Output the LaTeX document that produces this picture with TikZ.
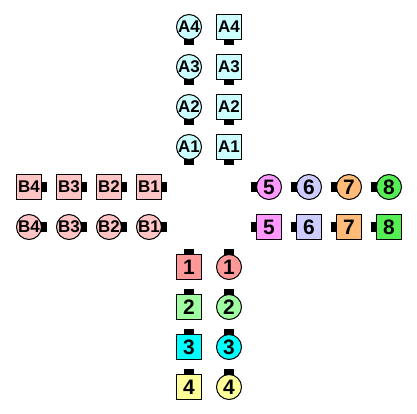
\documentclass[tikz,border=0pt]{standalone}
\usepackage{fontspec}
\setmainfont{Liberation Sans}
\definecolor{acol}{HTML}{CCFFFF}
\definecolor{bcol}{HTML}{FFC4C4}
\definecolor{cA}{HTML}{FF9999}
\definecolor{cB}{HTML}{A0FFA0}
\definecolor{cC}{HTML}{00FFFF}
\definecolor{cD}{HTML}{FFFF99}
\definecolor{cE}{HTML}{FF99FF}
\definecolor{cF}{HTML}{CCCCFF}
\definecolor{cG}{HTML}{FFBB77}
\definecolor{cH}{HTML}{55EE55}
\begin{document}
\begin{tikzpicture}[x=1bp,y=-1bp,
  sqbox/.style={draw=black, line width=1bp, minimum size=25bp, inner sep=0pt},
  circbox/.style={circle, draw=black, line width=1bp, minimum size=25bp, inner sep=0pt},
  letterfont/.style={font=\bfseries\fontsize{17}{17}\selectfont},
  digitfont/.style={font=\bfseries\fontsize{21}{21}\selectfont},
  tabv/.style={fill=black, minimum width=10bp, minimum height=6bp, inner sep=0pt},
  tabh/.style={fill=black, minimum width=6bp, minimum height=10bp, inner sep=0pt}]
\useasboundingbox[fill=white] (0,0) rectangle (417,414);
% A column (tabs below)
\foreach \i/\y in {4/27,3/67,2/107,1/147}{
  \node[circbox, fill=acol, letterfont] (Ac\i) at (189,\y) {A\i};
  \node[tabv, anchor=north] (tAc\i) at ([yshift=1bp]Ac\i.south) {};
  \node[sqbox, fill=acol, letterfont] (As\i) at (229,\y) {A\i};
  \node[tabv, anchor=north] (tAs\i) at ([yshift=1bp]As\i.south) {};
}
% B row (tabs right)
\foreach \i/\x in {4/29,3/69,2/109,1/149}{
  \node[sqbox, fill=bcol, letterfont] (Bs\i) at (\x,187) {B\i};
  \node[tabh, anchor=west] (tBs\i) at ([xshift=-1bp]Bs\i.east) {};
  \node[circbox, fill=bcol, letterfont] (Bc\i) at (\x,227) {B\i};
  \node[tabh, anchor=west] (tBc\i) at ([xshift=-1bp]Bc\i.east) {};
}
% right row (tabs left)
\foreach \i/\x/\c in {5/269/cE,6/309/cF,7/349/cG,8/389/cH}{
  \node[circbox, fill=\c, digitfont] (Rc\i) at (\x,187) {\i};
  \node[tabh, anchor=east] (tRc\i) at ([xshift=1bp]Rc\i.west) {};
  \node[sqbox, fill=\c, digitfont] (Rs\i) at (\x,227) {\i};
  \node[tabh, anchor=east] (tRs\i) at ([xshift=1bp]Rs\i.west) {};
}
% bottom column (tabs above)
\foreach \i/\y/\c in {1/267/cA,2/307/cB,3/347/cC,4/387/cD}{
  \node[sqbox, fill=\c, digitfont] (Ds\i) at (189,\y) {\i};
  \node[tabv, anchor=south] (tDs\i) at ([yshift=-1bp]Ds\i.north) {};
  \node[circbox, fill=\c, digitfont] (Dc\i) at (229,\y) {\i};
  \node[tabv, anchor=south] (tDc\i) at ([yshift=-1bp]Dc\i.north) {};
}
\end{tikzpicture}
\end{document}
